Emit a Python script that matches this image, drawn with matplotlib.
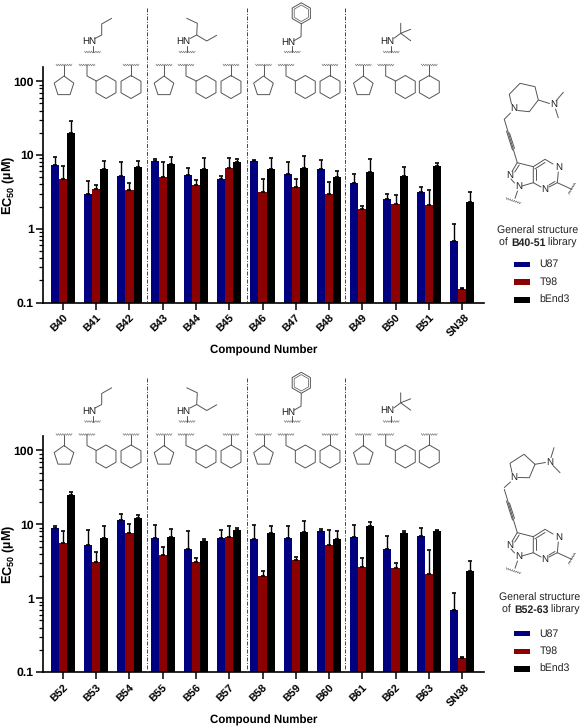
import matplotlib
matplotlib.use('Agg')
import matplotlib.pyplot as plt
from matplotlib.patches import Rectangle, Polygon
from matplotlib.transforms import ScaledTranslation
import numpy as np

plt.rcParams['font.family'] = ['Liberation Sans', 'DejaVu Sans']
plt.rcParams['mathtext.fontset'] = 'custom'
plt.rcParams['mathtext.bf'] = 'Liberation Sans:bold'
plt.rcParams['mathtext.rm'] = 'Liberation Sans'
plt.rcParams['text.hinting'] = 'no_hinting'

W, H = 582, 726
BLUE, RED, BLACK = '#000080', '#8b0000', '#000000'
INK = '#555555'

# top panel
names_a = ['B40', 'B41', 'B42', 'B43', 'B44', 'B45', 'B46', 'B47', 'B48', 'B49', 'B50', 'B51', 'SN38']
u87_a = [7.3, 3.0, 5.2, 8.2, 5.4, 4.7, 8.4, 5.5, 6.4, 4.14, 2.52, 3.19, 0.695]
u87_a_top = [9.3, 4.5, 8.0, 8.9, 6.6, 5.2, 8.6, 8.1, 8.6, 5.5, 3.0, 3.66, 1.18]
t98_a = [4.8, 3.5, 3.4, 5.1, 3.9, 6.6, 3.2, 3.66, 2.94, 1.85, 2.16, 2.09, 0.153]
t98_a_top = [7.0, 3.9, 4.2, 8.0, 4.6, 9.2, 4.7, 4.7, 4.35, 2.07, 2.9, 3.33, 0.16]
bend_a = [20.0, 6.5, 6.8, 7.6, 6.5, 8.0, 6.5, 6.7, 5.0, 5.95, 5.15, 7.2, 2.34]
bend_a_top = [29.0, 8.3, 8.2, 9.5, 9.0, 8.8, 9.2, 9.8, 6.0, 8.7, 6.8, 7.8, 3.19]

# bottom panel
names_b = ['B52', 'B53', 'B54', 'B55', 'B56', 'B57', 'B58', 'B59', 'B60', 'B61', 'B62', 'B63', 'SN38']
u87_b = [9.0, 5.2, 11.5, 6.6, 4.7, 6.5, 6.3, 6.5, 8.2, 6.7, 4.6, 7.0, 0.695]
u87_b_top = [9.5, 8.5, 14.0, 9.8, 8.0, 8.5, 9.7, 9.6, 8.7, 9.7, 7.0, 9.0, 1.18]
t98_b = [5.6, 3.1, 7.6, 3.8, 3.1, 6.8, 2.0, 3.29, 5.25, 2.67, 2.54, 2.11, 0.155]
t98_b_top = [8.0, 4.2, 10.2, 5.0, 3.5, 9.5, 2.3, 3.65, 8.3, 3.5, 3.03, 4.5, 0.16]
bend_b = [25.0, 6.5, 12.0, 6.8, 5.9, 8.5, 7.7, 7.9, 6.4, 9.4, 7.7, 8.0, 2.34]
bend_b_top = [27.5, 9.6, 13.5, 8.6, 6.4, 9.0, 9.5, 11.0, 8.0, 10.8, 8.1, 8.5, 3.19]

series_labels = ['U87', 'T98', 'bEnd3']
series_colors = [BLUE, RED, BLACK]

fig = plt.figure(figsize=(W / 100, H / 100), dpi=100)


def bar_panel(names, vals, tops, base_px, ten_px):
    # axes placed from pixel positions of baseline and the 10 tick
    decade = (base_px - ten_px) / 2
    top_px = base_px - 235.7
    ax = fig.add_axes([43 / W, 1 - base_px / H, (484 - 43) / W, (base_px - top_px) / H])
    ax.set_yscale('log')
    ax.set_ylim(0.1, 0.1 * 10 ** ((base_px - top_px) / decade))
    ax.set_xlim(-0.6, 12.66)
    x = np.arange(len(names))
    w = 0.244
    for k, (v, t, c, lab) in enumerate(zip(vals, tops, series_colors, series_labels)):
        xs = x + (k - 1) * w
        ax.bar(xs, v, width=w, color=c, label=lab, linewidth=0)
        err = np.array(t) - np.array(v)
        ax.errorbar(xs, v, yerr=[np.zeros(len(v)), err], fmt='none', ecolor='black',
                    elinewidth=1.0, capsize=1.6, capthick=1.2)
    for s in ['top', 'right']:
        ax.spines[s].set_visible(False)
    for s in ['left', 'bottom']:
        ax.spines[s].set_linewidth(1.2)
    ax.set_xticks(x)
    ax.set_xticklabels(names, rotation=45, ha='center', fontsize=7.8, fontweight='bold')
    ax.set_yticks([0.1, 1, 10, 100])
    ax.set_yticklabels(['0.1', '1', '10', '100'], fontsize=8.8, fontweight='bold')
    ax.tick_params(axis='x', width=1.1, length=5, pad=2)
    ax.tick_params(axis='y', which='major', width=1.1, length=5, pad=1.5)
    ax.tick_params(axis='y', which='minor', width=0.9, length=3)
    # tick_params resets label transforms, so shift after it
    shift = ScaledTranslation(-4 / 100, 0, fig.dpi_scale_trans)
    for lab in ax.get_xticklabels():
        lab.set_transform(lab.get_transform() + shift)
    ax.set_xlabel('Compound Number', fontsize=8.3, fontweight='bold')
    ax.xaxis.set_label_coords(0.5, -0.18)
    ax.set_ylabel(r'EC$_{\mathbf{50}}$ (µM)', fontsize=9.2, fontweight='bold')
    ax.yaxis.set_label_coords(-0.06, 0.5)
    return ax


bar_panel(names_a, [u87_a, t98_a, bend_a], [u87_a_top, t98_a_top, bend_a_top], 302.7, 155)
bar_panel(names_b, [u87_b, t98_b, bend_b], [u87_b_top, t98_b_top, bend_b_top], 672, 524.3)

# overlay in pixel coordinates for the drawn structures
ov = fig.add_axes([0, 0, 1, 1], facecolor='none')
ov.set_xlim(0, W)
ov.set_ylim(H, 0)
ov.axis('off')


def bond(pts, dy, lw=0.7):
    xs = [p[0] for p in pts]
    ys = [p[1] + dy for p in pts]
    ov.plot(xs, ys, color=INK, lw=lw, solid_capstyle='round')


def ring(cx, cy, r, n, dy, lw=0.7):
    ang = -np.pi / 2 + np.arange(n) * 2 * np.pi / n
    ov.add_patch(Polygon(np.c_[cx + r * np.cos(ang), cy + dy + r * np.sin(ang)],
                         closed=True, fill=False, ec=INK, lw=lw))


def wavy(x0, y0, x1, y1, dy):
    # squiggle marking an attachment point
    n = 7
    t = np.linspace(0, 1, n * 2 + 1)
    off = np.where(np.arange(n * 2 + 1) % 2 == 0, -0.9, 0.9)
    L = np.hypot(x1 - x0, y1 - y0)
    nx, ny = -(y1 - y0) / L, (x1 - x0) / L
    ov.plot(x0 + (x1 - x0) * t + nx * off, y0 + dy + (y1 - y0) * t + ny * off, color='#666666', lw=0.4)


def substituents(cp, st, hx1, hx2, dy):
    # cyclopentyl, cyclohexylmethyl, cyclohexyl under one dividing section
    wavy(cp - 8, 65, cp + 8, 65, dy)
    bond([(cp, 65), (cp, 76)], dy)
    ring(cp, 86.3, 10.3, 5, dy)
    wavy(st - 8, 65, st + 8, 65, dy)
    bond([(st, 65), (st, 76), (hx1 - 9.7, 81)], dy)
    ring(hx1, 87, 11.5, 6, dy)
    wavy(hx2 - 8, 65, hx2 + 8, 65, dy)
    bond([(hx2, 65), (hx2, 75.5)], dy)
    ring(hx2, 87, 11.5, 6, dy)


def amine(tx, ty, dy):
    ov.text(tx, ty + dy, 'HN', fontsize=7, color='#222222', ha='center', va='center')
    wavy(tx - 4.5, 52, tx + 11.5, 52, dy)
    bond([(tx + 3.5, 52), (tx + 3.5, 46)], dy)


def section_structures(dy):
    amine(89, 41.5, dy)
    bond([(95, 38.5), (101.7, 35), (101.7, 24), (111.7, 18.3)], dy)
    substituents(64, 87, 106, 131, dy)

    amine(183.5, 41.5, dy)
    bond([(190, 38.5), (196.7, 35), (197.3, 23.3), (186.7, 18.3)], dy)
    bond([(196.7, 35), (206.7, 41), (216.7, 35.3)], dy)
    substituents(164, 186, 206, 231, dy)

    amine(288.7, 42.5, dy)
    bond([(294, 40.7), (301, 36.7), (301.3, 24)], dy)
    ring(301.3, 13.3, 10.5, 6, dy)
    ring(301.3, 13.3, 8.2, 6, dy, lw=0.5)
    substituents(263.5, 286, 305.3, 330, dy)

    amine(387.7, 41, dy)
    bond([(394, 38.3), (400.7, 33.3), (400.7, 23.3)], dy)
    bond([(410.7, 29.3), (400.7, 33.3), (410.7, 40.7)], dy)
    substituents(363.3, 385.7, 405.3, 429.3, dy)

    for xd in [146.7, 246.7, 345.3]:
        ov.plot([xd, xd], [8 + dy, 302 + dy], color='#444444', lw=0.7,
                dashes=(4, 1.6, 1, 1.6))


def scaffold(dy):
    # pyrazolopyrimidine core with alkyne, shared by both libraries
    bond([(504.3, 119.3), (517.3, 162.7)], dy)
    bond([(506.5, 131), (512.5, 150)], dy)
    bond([(509.5, 133), (514.5, 148.5)], dy)
    bond([(517.3, 162.7), (533.3, 166.7), (545, 159.3), (553, 164)], dy)
    bond([(534.8, 169), (545, 162.5)], dy)
    bond([(517, 163), (512, 171.5)], dy)
    bond([(519.2, 165), (514.7, 172)], dy)
    bond([(558.3, 172), (557.3, 182.7), (549, 187)], dy)
    bond([(555, 181.5), (549, 185)], dy)
    bond([(541, 187), (533.3, 182.7), (533.3, 166.7)], dy)
    bond([(536, 180), (536, 169)], dy)
    bond([(533.3, 182.7), (522, 186)], dy)
    bond([(511, 179), (514.5, 183)], dy)
    bond([(557.3, 182.7), (571.7, 189.3)], dy)
    wavy(575, 183, 568.5, 194, dy)
    bond([(517.5, 191), (515, 198.3)], dy)
    wavy(506, 198.3, 520.7, 203.3, dy)
    for t, x, y in [('N', 558.3, 167.3), ('N', 545, 189.3), ('N', 518.3, 186.7), ('N', 509.3, 175)]:
        ov.text(x, y + dy, t, fontsize=7, color='#222222', ha='center', va='center')


def side_text(lines_y, code, left, cx, leg_y):
    ov.text(cx, lines_y[0], 'General structure', fontsize=7.6, color='#222222', ha='center', va='center')
    r = fig.canvas.get_renderer()
    base = lines_y[1] + 3
    x = left
    for s, fw in [('of ', 'normal'), (code, 'bold'), (' library', 'normal')]:
        t = ov.text(x, base, s, fontsize=7.6, color='#222222', fontweight=fw, ha='left', va='baseline')
        x = x + t.get_window_extent(r).width
    for lab, c, y in zip(series_labels, series_colors, leg_y):
        ov.add_patch(Rectangle((514.3, y - 2.7), 16, 5.4, fc=c, ec='none'))
        ov.text(539.3, y, lab, fontsize=7.6, color='#222222', ha='left', va='center')


section_structures(0)
section_structures(369.5)
scaffold(0)
scaffold(370)

# piperidine amine, top library
bond([(511.5, 104), (509.3, 94.3), (520, 83.3), (535, 86.7), (538.3, 100), (529.3, 111.7), (518, 110.5)], 0)
bond([(538.3, 100), (549.5, 103.5)], 0)
bond([(556, 101), (563.3, 92.3)], 0)
bond([(555.5, 109), (558.3, 117.7)], 0)
bond([(510.5, 113), (504.3, 119.3)], 0)
ov.text(514, 108.3, 'N', fontsize=7, color='#222222', ha='center', va='center')
ov.text(553.3, 104.3, 'N', fontsize=7, color='#222222', ha='center', va='center')

# pyrrolidine amine, bottom library
bond([(512, 472.5), (510, 463.3), (524, 454.3), (535, 464.3), (529.3, 477.7), (518, 477.5)], 0)
bond([(535, 464.3), (545.5, 462.5)], 0)
bond([(551, 457.5), (554, 447.7)], 0)
bond([(553, 465.5), (560, 472.7)], 0)
bond([(510.5, 482), (504.3, 487.5)], 0)
ov.text(514, 477.3, 'N', fontsize=7, color='#222222', ha='center', va='center')
ov.text(549.3, 462.3, 'N', fontsize=7, color='#222222', ha='center', va='center')

side_text([230.7, 242.7], 'B40-51', 499.3, 537.3, [264.3, 282, 300])
side_text([597.7, 609.7], 'B52-63', 502.3, 540, [633.7, 651.3, 669])

fig.savefig('out.png', dpi=100)
